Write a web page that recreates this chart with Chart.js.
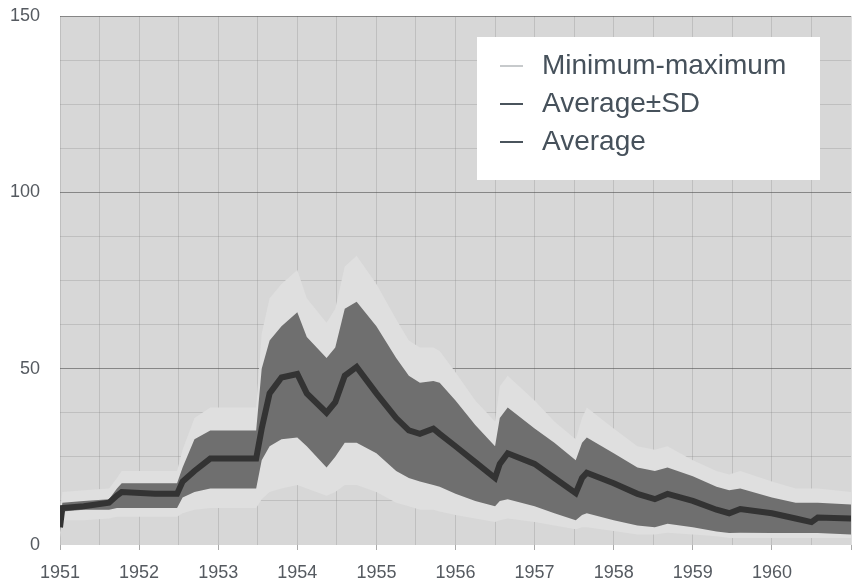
<!DOCTYPE html>
<html>
<head>
<meta charset="utf-8">
<script src="https://cdn.jsdelivr.net/npm/chart.js@4"></script>
<style>
  html, body { margin: 0; padding: 0; background: #fff; }
  #wrap { width: 863px; height: 588px; }
</style>
</head>
<body>
<div id="wrap"><canvas id="myChart" width="863" height="588"></canvas></div>
<script>
// time points (decimal years)
const years = [1951.0, 1951.03, 1951.3, 1951.62, 1951.72, 1951.78, 1952.2, 1952.48, 1952.55, 1952.7,
  1952.9, 1953.2, 1953.48, 1953.55, 1953.65, 1953.8, 1954.0, 1954.12, 1954.37, 1954.48,
  1954.6, 1954.75, 1955.0, 1955.25, 1955.41, 1955.55, 1955.72, 1955.8, 1956.0, 1956.25,
  1956.5, 1956.56, 1956.66, 1957.0, 1957.25, 1957.52, 1957.6, 1957.66, 1958.0, 1958.3,
  1958.52, 1958.68, 1959.0, 1959.3, 1959.46, 1959.6, 1960.0, 1960.3, 1960.5, 1960.58, 1961.0];

const average = [5, 10.5, 11, 12, 14, 15, 14.5, 14.5, 18, 21,
  24.5, 24.5, 24.5, 33, 43, 47.5, 48.5, 43, 37.5, 40.5,
  48, 50.5, 43, 36, 32.5, 31.5, 33, 31.5, 28, 23.5,
  19, 23, 26, 23, 19, 14.7, 19, 20.5, 17.5, 14.5,
  13, 14.5, 12.5, 10, 9, 10.2, 9, 7.5, 6.5, 7.8, 7.5];

const sdUpper = [7, 12, 12.5, 13, 16, 17.5, 17.5, 17.5, 22, 30,
  32.5, 32.5, 32.5, 50, 58, 62, 66, 59, 53, 56,
  67, 69, 62, 53, 48, 46, 46.5, 46, 41, 34,
  28, 36, 39, 33, 29, 24, 29, 30.5, 26, 22,
  21, 22, 19.5, 16.5, 15.5, 16, 13.5, 12, 12, 12, 11.5];

const sdLower = [3.5, 9.5, 10, 10, 10.5, 10.5, 10.5, 10.5, 13.5, 15,
  16, 16, 16, 24, 28, 30, 30.5, 28, 22, 25,
  29, 29, 26, 21, 19, 18, 17, 16.5, 14.5, 12.5,
  11, 12.5, 13, 11, 9, 7, 8.5, 9, 7, 5.5,
  5, 6, 5, 3.8, 3.4, 3.5, 3.4, 3.4, 3.4, 3.4, 3];

const maximum = [10, 15, 15.5, 16, 19, 21, 21, 21, 27, 36,
  39, 39, 39, 60, 70, 74, 78, 70, 63, 67,
  79, 82, 74, 64, 58, 56, 56, 55, 49, 41,
  35, 45, 48, 41, 35, 30, 36, 39, 33, 28,
  27, 28, 24, 21, 20, 21, 18, 16, 16, 16, 15];

const minimum = [2, 7, 7, 7.5, 8, 8, 8, 8, 9, 10,
  10.5, 10.5, 10.5, 13, 15, 16, 17, 16, 14, 15,
  17, 17, 15, 12, 11, 10, 10, 9.5, 8.5, 7.5,
  6.5, 7, 7.5, 6.5, 5.5, 4.5, 5, 5, 4, 3,
  3, 3.5, 3, 2.5, 2, 2, 2, 2, 2, 2, 2];

const yearLabels = ['1951', '1952', '1953', '1954', '1955', '1956', '1957', '1958', '1959', '1960'];
const yLabels = ['0', '50', '100', '150'];
const legendLabels = ['Minimum-maximum', 'Average\u00B1SD', 'Average'];

const pts = arr => arr.map((v, i) => ({ x: years[i], y: v }));

// grey plot background
const plotBg = {
  id: 'plotBg',
  beforeDraw(chart) {
    const { ctx, chartArea: a } = chart;
    ctx.save();
    ctx.fillStyle = '#d7d7d7';
    ctx.fillRect(a.left, a.top, a.right - a.left, a.bottom - a.top);
    ctx.restore();
  }
};

// legend box inside the plot
const boxLegend = {
  id: 'boxLegend',
  afterDraw(chart) {
    const { ctx, chartArea: a } = chart;
    const x0 = a.left + 417, y0 = a.top + 21;
    ctx.save();
    ctx.fillStyle = '#ffffff';
    ctx.fillRect(x0, y0, 343, 143);
    const colors = ['#b5b8bb', '#4a545c', '#4a545c'];
    const widths = [1.5, 2, 2];
    legendLabels.forEach((t, i) => {
      const cy = y0 + 29 + i * 38;
      ctx.strokeStyle = colors[i];
      ctx.lineWidth = widths[i];
      ctx.beginPath();
      ctx.moveTo(x0 + 23, cy);
      ctx.lineTo(x0 + 46, cy);
      ctx.stroke();
      ctx.fillStyle = '#46515b';
      ctx.font = '28px "Liberation Sans", Arial, sans-serif';
      ctx.textBaseline = 'middle';
      ctx.fillText(t, x0 + 65, cy);
    });
    ctx.restore();
  }
};

const isWhole = (v, step) => Math.abs(v / step - Math.round(v / step)) < 1e-6;

new Chart(document.getElementById('myChart'), {
  type: 'line',
  data: {
    datasets: [
      {
        label: 'Maximum',
        data: pts(maximum),
        borderWidth: 0,
        backgroundColor: '#dfdfdf',
        fill: 1,
        order: 3
      },
      {
        label: 'Minimum',
        data: pts(minimum),
        borderWidth: 0,
        fill: false,
        order: 3
      },
      {
        label: 'SD upper',
        data: pts(sdUpper),
        borderWidth: 0,
        backgroundColor: '#6f6f6f',
        fill: 3,
        order: 2
      },
      {
        label: 'SD lower',
        data: pts(sdLower),
        borderWidth: 0,
        fill: false,
        order: 2
      },
      {
        label: 'Average',
        data: pts(average),
        borderColor: '#333333',
        borderWidth: 6,
        fill: false,
        order: 1
      }
    ]
  },
  options: {
    responsive: false,
    animation: false,
    layout: { padding: { top: 16, right: 3, left: 0, bottom: 0 } },
    elements: { point: { radius: 0 }, line: { tension: 0 } },
    plugins: {
      legend: { display: false },
      tooltip: { enabled: false }
    },
    scales: {
      x: {
        type: 'linear',
        min: 1951,
        max: 1961,
        afterFit: s => { s.height = 43; },
        border: { display: false },
        grid: {
          color: 'rgba(110,110,110,0.22)',
          drawTicks: true,
          tickLength: 5,
          tickColor: c => isWhole(c.tick.value, 1) ? '#aaaaaa' : 'rgba(0,0,0,0)'
        },
        ticks: {
          stepSize: 0.5,
          padding: 12,
          color: '#555a60',
          font: { size: 18, family: '"Liberation Sans", Arial, sans-serif' },
          maxRotation: 0,
          autoSkip: false,
          callback: v => isWhole(v, 1) ? (yearLabels[Math.round(v - 1951)] || '') : ''
        }
      },
      y: {
        min: 0,
        max: 150,
        afterFit: s => { s.width = 60; },
        border: { display: false },
        grid: {
          drawTicks: true,
          tickLength: 20,
          tickColor: 'rgba(0,0,0,0)',
          color: c => {
            const v = c.tick.value;
            if (v === 0) return 'rgba(0,0,0,0)';
            return isWhole(v, 50) ? 'rgba(80,80,80,0.6)' : 'rgba(110,110,110,0.22)';
          }
        },
        ticks: {
          stepSize: 12.5,
          padding: 0,
          autoSkip: false,
          color: '#555a60',
          font: { size: 18, family: '"Liberation Sans", Arial, sans-serif' },
          callback: v => isWhole(v, 50) ? yLabels[Math.round(v / 50)] : ''
        }
      }
    }
  },
  plugins: [plotBg, boxLegend]
});
</script>
</body>
</html>
